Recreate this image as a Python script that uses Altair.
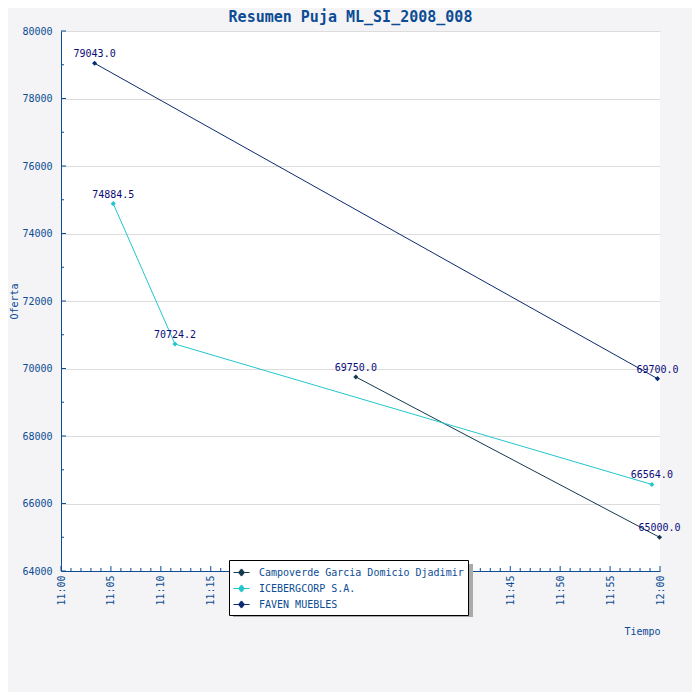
import altair as alt
import pandas as pd

series = ["Campoverde Garcia Domicio Djadimir", "ICEBERGCORP S.A.", "FAVEN MUEBLES"]
colors = ["#14394d", "#22c6cc", "#0c2a6e"]

camp_times = ["2008-01-01T11:29:32", "2008-01-01T11:59:57"]
camp_values = [69750.0, 65000.0]
ice_times = ["2008-01-01T11:05:14", "2008-01-01T11:11:25", "2008-01-01T11:59:11"]
ice_values = [74884.5, 70724.2, 66564.0]
faven_times = ["2008-01-01T11:03:22", "2008-01-01T11:59:45"]
faven_values = [79043.0, 69700.0]

y_major = list(range(64000, 80001, 2000))
y_minor = list(range(65000, 80000, 2000))
x_major_min = list(range(0, 61, 5))
x_minor_min = [m for m in range(0, 61) if m % 5 != 0]

BLUE = "#0b4c94"
LABEL = "#0a0a78"
FONT = "DejaVu Sans Mono"

rows = []
for name, ts, vs in [(series[0], camp_times, camp_values),
                     (series[1], ice_times, ice_values),
                     (series[2], faven_times, faven_values)]:
    for t, v in zip(ts, vs):
        rows.append({"Postor": name, "Tiempo": t, "Oferta": v})
df = pd.DataFrame(rows)

def dt(m):
    return alt.DateTime(year=2008, month=1, date=1, hours=11 + m // 60, minutes=m % 60)

xscale = alt.Scale(domain=[dt(0), dt(60)], nice=False)
yscale = alt.Scale(domain=[64000, 80000], nice=False, zero=False)
cscale = alt.Scale(domain=series, range=colors)

base = alt.Chart(df)

xaxis = alt.Axis(title="Tiempo", values=[dt(m) for m in x_major_min], format="%H:%M",
                 labelAngle=270, labelPadding=4, labelFlush=False, labelOverlap=False,
                 ticks=False, tickSize=0, grid=False, domainColor=BLUE,
                 labelColor=BLUE, titleColor=BLUE, labelFont=FONT, titleFont=FONT,
                 labelFontSize=10, titleFontSize=10, titleFontWeight="normal",
                 titleAnchor="end", titleY=55, titleBaseline="top")
yaxis = alt.Axis(title="Oferta", values=y_major, format="d", ticks=False, tickSize=0,
                 labelPadding=9, grid=True, gridColor="#dcdcdc", domainColor=BLUE,
                 labelColor=BLUE, titleColor=BLUE, labelFont=FONT, titleFont=FONT,
                 labelFontSize=10, titleFontSize=10, titleFontWeight="normal",
                 titlePadding=2, labelFlush=False)

diamond_path = ("M-1,0H1"
                "M0,-0.45L0.38,0L0,0.45L-0.38,0Z"
                "M0,-0.33L0.28,0L0,0.33L-0.28,0Z"
                "M0,-0.2L0.17,0L0,0.2L-0.17,0Z"
                "M0,-0.08L0.06,0L0,0.08L-0.06,0Z")

legend = alt.Legend(
    title=None, orient="none", legendX=168, legendY=529,
    fillColor="white", strokeColor="black", padding=4,
    symbolType=diamond_path, symbolSize=256, labelLimit=0,
    symbolStrokeWidth=1, labelFont=FONT, labelFontSize=10,
    labelColor=BLUE, labelOffset=9, rowPadding=1)

lines = base.mark_line(strokeWidth=1).encode(
    x=alt.X("Tiempo:T", scale=xscale, axis=xaxis),
    y=alt.Y("Oferta:Q", scale=yscale, axis=yaxis),
    color=alt.Color("Postor:N", scale=cscale, legend=legend),
    order="Tiempo:T",
)

points = base.mark_point(shape="diamond", filled=True, size=26, opacity=1).encode(
    x=alt.X("Tiempo:T", scale=xscale),
    y=alt.Y("Oferta:Q", scale=yscale),
    fill=alt.Fill("Postor:N", scale=cscale, legend=None),
)

labels = base.mark_text(font=FONT, fontSize=10, color=LABEL, baseline="bottom", dy=-4).encode(
    x=alt.X("Tiempo:T", scale=xscale),
    y=alt.Y("Oferta:Q", scale=yscale),
    text=alt.Text("Oferta:Q", format=".1f"),
)

ymaj_df = pd.DataFrame({"v": y_major})
ymin_df = pd.DataFrame({"v": y_minor})
xmaj_df = pd.DataFrame({"t": ["2008-01-01T%02d:%02d:00" % (11 + m // 60, m % 60) for m in x_major_min]})
xmin_df = pd.DataFrame({"t": ["2008-01-01T11:%02d:00" % m for m in x_minor_min]})

ytick_major = alt.Chart(ymaj_df).mark_rule(color=BLUE, strokeWidth=1).encode(
    y=alt.Y("v:Q", scale=yscale), x=alt.value(0), x2=alt.value(5))
ytick_minor = alt.Chart(ymin_df).mark_rule(color=BLUE, strokeWidth=1).encode(
    y=alt.Y("v:Q", scale=yscale), x=alt.value(0), x2=alt.value(3))
xtick_major = alt.Chart(xmaj_df).mark_rule(color=BLUE, strokeWidth=1).encode(
    x=alt.X("t:T", scale=xscale), y=alt.value(540), y2=alt.value(535))
xtick_minor = alt.Chart(xmin_df).mark_rule(color=BLUE, strokeWidth=1).encode(
    x=alt.X("t:T", scale=xscale), y=alt.value(540), y2=alt.value(537))

shadow = alt.Chart(pd.DataFrame({"a": [0]})).mark_rect(color="#aaaaaa").encode(
    x=alt.value(172), x2=alt.value(412), y=alt.value(533), y2=alt.value(586))

chart = alt.layer(
    ytick_major, ytick_minor, xtick_major, xtick_minor, lines, points, labels, shadow
).properties(
    width=599, height=540,
    autosize=alt.AutoSizeParams(type="none"),
    padding={"left": 53, "top": 23, "right": 32, "bottom": 121},
    background="#f4f4f6",
    title=alt.TitleParams("Resumen Puja ML_SI_2008_008", font=FONT, fontSize=15,
                          fontWeight="bold", color=BLUE, anchor="middle", dx=-10, offset=1),
).configure_view(fill="white", stroke=None).configure_axis(gridWidth=1)

chart.save("out.html", embed_options={"renderer": "svg", "actions": False})
